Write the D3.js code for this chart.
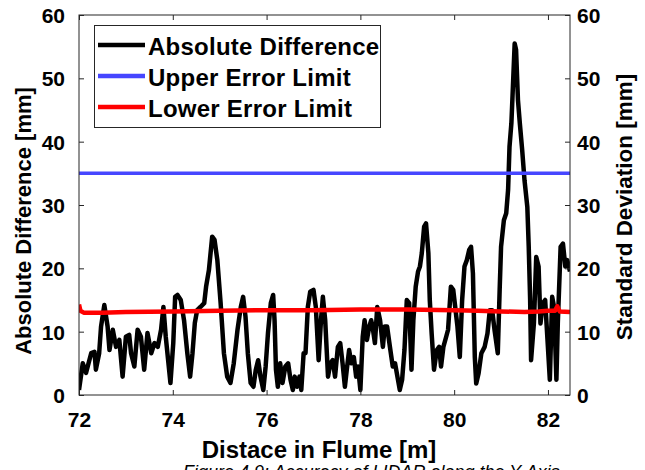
<!DOCTYPE html>
<html>
<head>
<meta charset="utf-8">
<script src="https://cdn.jsdelivr.net/npm/d3@7"></script>
<style>
  body { margin: 0; background: #fff; }
  text { font-family: "Liberation Sans", Arial, sans-serif; font-weight: bold; fill: #000; }
</style>
</head>
<body>
<script>
// distance along flume [m] and absolute difference [mm]
const distance = [72.00, 72.08, 72.15, 72.26, 72.33, 72.36, 72.43, 72.47, 72.54, 72.61, 72.65, 72.72, 72.79, 72.86, 72.93,
  73.00, 73.07, 73.11, 73.18, 73.25, 73.32, 73.39, 73.46, 73.54, 73.61, 73.68, 73.75, 73.80, 73.85, 73.95,
  74.01, 74.05, 74.10, 74.17, 74.24, 74.31, 74.37, 74.42, 74.47, 74.52, 74.59, 74.67, 74.71, 74.77, 74.84, 74.89, 74.95,
  75.02, 75.09, 75.16, 75.23, 75.30, 75.38, 75.45, 75.50, 75.55, 75.60, 75.66, 75.72, 75.77, 75.82, 75.87, 75.93, 75.98,
  76.03, 76.09, 76.14, 76.17, 76.20, 76.24, 76.29, 76.34, 76.40, 76.46, 76.51, 76.56, 76.60, 76.65, 76.70, 76.74, 76.79, 76.83, 76.88, 76.93,
  77.00, 77.05, 77.11, 77.16, 77.20, 77.25, 77.31, 77.36, 77.41, 77.46, 77.52, 77.57, 77.62, 77.67, 77.71, 77.76, 77.81, 77.86, 77.91, 77.95,
  78.00, 78.05, 78.09, 78.14, 78.19, 78.23, 78.26, 78.31, 78.36, 78.42, 78.48, 78.52, 78.57, 78.63, 78.69, 78.74, 78.79, 78.84, 78.89, 78.94, 78.99,
  79.04, 79.09, 79.13, 79.18, 79.23, 79.27, 79.31, 79.36, 79.40, 79.45, 79.48, 79.52, 79.57, 79.63, 79.68, 79.72, 79.77, 79.83, 79.87, 79.93, 79.98,
  80.03, 80.07, 80.12, 80.17, 80.22, 80.27, 80.32, 80.36, 80.40, 80.44, 80.47, 80.52, 80.58, 80.65, 80.71, 80.76, 80.81, 80.86, 80.93, 80.97,
  81.00, 81.06, 81.11, 81.15, 81.18, 81.22, 81.25, 81.29, 81.32, 81.36, 81.40, 81.45, 81.50, 81.56, 81.59, 81.62, 81.64, 81.70, 81.75, 81.80, 81.84, 81.89, 81.94, 81.99,
  82.04, 82.09, 82.13, 82.18, 82.21, 82.27, 82.32, 82.37, 82.41, 82.47];
const absDiff = [0.8, 5.0, 3.5, 6.6, 6.8, 4.0, 6.6, 10.8, 14.2, 10.8, 7.1, 10.3, 7.6, 8.7, 2.9,
  9.2, 9.5, 6.6, 4.5, 10.3, 9.2, 4.0, 9.8, 6.6, 8.2, 7.6, 10.3, 13.9, 9.2, 1.9,
  8.2, 15.5, 15.8, 15.0, 11.8, 6.6, 2.9, 6.6, 11.4, 13.4, 13.9, 14.5, 17.1, 19.7, 25.0, 24.5, 21.3,
  14.5, 6.6, 2.9, 1.9, 5.0, 10.3, 13.9, 15.5, 12.4, 6.6, 1.9, 1.3, 4.0, 5.5, 2.9, 0.8, 4.5,
  9.8, 14.5, 15.8, 11.8, 4.0, 1.3, 5.0, 1.9, 4.5, 5.0, 2.4, 0.8, 2.9, 1.3, 2.9, 0.8, 6.6, 6.6, 13.9, 16.3,
  16.6, 13.9, 5.5, 11.8, 15.5, 11.8, 2.9, 5.0, 5.5, 2.9, 7.6, 8.2, 5.0, 1.3, 4.0, 7.1, 5.0, 6.0, 2.9, 4.5,
  0.8, 9.2, 11.8, 8.7, 10.8, 11.8, 10.8, 8.2, 13.9, 11.8, 7.6, 10.8, 10.8, 7.6, 4.5, 5.0, 2.9, 0.8, 2.4, 7.1, 15.0,
  14.5, 4.0, 11.8, 17.1, 19.5, 20.3, 22.4, 26.6, 27.1, 22.4, 15.0, 9.7, 4.0, 7.1, 7.6, 4.5, 7.6, 9.2, 10.3, 17.1, 16.6,
  13.4, 10.8, 6.0, 15.0, 20.3, 21.3, 22.9, 23.4, 19.2, 6.0, 1.8, 3.4, 6.6, 7.6, 9.7, 13.4, 13.4, 10.3, 6.6, 16.6,
  23.4, 27.6, 28.7, 32.4, 39.2, 42.9, 48.2, 55.5, 54.5, 46.6, 42.9, 38.7, 33.9, 29.7, 23.4, 15.0, 5.5, 11.3, 21.8, 20.3, 11.3, 14.5, 15.0, 8.7,
  2.4, 15.5, 13.9, 2.4, 11.3, 23.4, 23.9, 20.3, 21.3, 19.5];

// error limits [mm]
const upperX = [72.00, 82.47];
const upperY = [35.0, 35.0];
const lowerX = [72.00, 72.03, 72.10, 72.50, 73.00, 74.00, 75.00, 76.00, 77.00, 78.00, 79.00, 80.00, 80.50, 81.00, 81.50, 81.80, 82.00, 82.15, 82.20, 82.25, 82.47];
const lowerY = [14.3, 13.3, 13.0, 13.0, 13.1, 13.2, 13.3, 13.4, 13.4, 13.5, 13.5, 13.4, 13.3, 13.2, 13.1, 13.2, 13.3, 13.3, 14.0, 13.2, 13.1];

const xTicks = [72, 74, 76, 78, 80, 82];
const yTicks = [0, 10, 20, 30, 40, 50, 60];
const seriesNames = ["Absolute Difference", "Upper Error Limit", "Lower Error Limit"];
const seriesColors = ["#000000", "#4646ff", "#ff0000"];

const W = 645, H = 470;
const m = { left: 79, right: 570, top: 15, bottom: 395 };

const svg = d3.select("body").append("svg").attr("width", W).attr("height", H);

const x = d3.scaleLinear().domain([72, 82.47]).range([m.left, m.right]);
const y = d3.scaleLinear().domain([0, 60]).range([m.bottom, m.top]);

svg.append("clipPath").attr("id", "plot")
  .append("rect").attr("x", m.left).attr("y", m.top)
  .attr("width", m.right - m.left).attr("height", m.bottom - m.top);

const line = d3.line().x(d => x(d[0])).y(d => y(d[1]));

const plot = svg.append("g").attr("clip-path", "url(#plot)");

plot.append("path")
  .datum(d3.zip(distance, absDiff))
  .attr("d", line)
  .attr("fill", "none").attr("stroke", seriesColors[0])
  .attr("stroke-width", 4.5).attr("stroke-linejoin", "round");

plot.append("path")
  .datum(d3.zip(upperX, upperY))
  .attr("d", line)
  .attr("fill", "none").attr("stroke", seriesColors[1]).attr("stroke-width", 3.5);

plot.append("path")
  .datum(d3.zip(lowerX, lowerY))
  .attr("d", line)
  .attr("fill", "none").attr("stroke", seriesColors[2])
  .attr("stroke-width", 4.5).attr("stroke-linejoin", "round");

// axes with inward ticks
function styleAxis(g) {
  g.select(".domain").remove();
  g.selectAll(".tick line").attr("stroke", "#262626");
  g.selectAll("text").attr("font-size", 21).attr("fill", "#000")
    .style("font-family", "'Liberation Sans', Arial, sans-serif").style("font-weight", "bold");
}

svg.append("g").attr("transform", `translate(0,${m.bottom})`)
  .call(d3.axisBottom(x).tickValues(xTicks).tickSize(-5).tickSizeOuter(0).tickFormat(d3.format("d")))
  .call(styleAxis)
  .call(g => g.selectAll("text").attr("dy", null).attr("y", 32));

svg.append("g").attr("transform", `translate(0,${m.top})`)
  .call(d3.axisTop(x).tickValues(xTicks).tickSize(-5).tickSizeOuter(0).tickFormat(""))
  .call(styleAxis);

svg.append("g").attr("transform", `translate(${m.left},0)`)
  .call(d3.axisLeft(y).tickValues(yTicks).tickSize(-5).tickSizeOuter(0))
  .call(styleAxis)
  .call(g => g.selectAll("text").attr("x", -14).attr("dy", "0.36em"));

svg.append("g").attr("transform", `translate(${m.right},0)`)
  .call(d3.axisRight(y).tickValues(yTicks).tickSize(-5).tickSizeOuter(0))
  .call(styleAxis)
  .call(g => g.selectAll("text").attr("x", 7).attr("dy", "0.36em"));

svg.append("rect")
  .attr("x", m.left).attr("y", m.top).attr("width", m.right - m.left).attr("height", m.bottom - m.top)
  .attr("fill", "none").attr("stroke", "#262626").attr("stroke-width", 1);

// axis titles
svg.append("text").attr("x", 319).attr("y", 458)
  .attr("text-anchor", "middle").attr("font-size", 24).text("Distace in Flume [m]");

svg.append("text").attr("transform", "translate(31,221) rotate(-90)")
  .attr("text-anchor", "middle").attr("font-size", 22).text("Absolute Difference [mm]");

svg.append("text").attr("transform", "translate(632,207) rotate(-90)")
  .attr("text-anchor", "middle").attr("font-size", 22.5).text("Standard Deviation [mm]");

// legend
const legend = svg.append("g");
legend.append("rect").attr("x", 94.5).attr("y", 25.5).attr("width", 286).attr("height", 102)
  .attr("fill", "#fff").attr("stroke", "#262626").attr("stroke-width", 1);

const rows = legend.selectAll("g.row").data(seriesNames).join("g").attr("class", "row")
  .attr("transform", (d, i) => `translate(0,${i * 31})`);
rows.append("line").attr("x1", 98).attr("x2", 145).attr("y1", 45).attr("y2", 45)
  .attr("stroke", (d, i) => seriesColors[i]).attr("stroke-width", 4.5);
rows.append("text").attr("x", 148).attr("y", 55).attr("font-size", 24)
  .attr("letter-spacing", 0.25).text(d => d);

// figure caption, cut by the bottom edge as in the source page
svg.append("text").attr("x", 183).attr("y", 478)
  .style("font-weight", "normal").style("font-style", "italic")
  .attr("font-size", 18).attr("fill", "#595959")
  .text("Figure 4.9: Accuracy of LIDAR along the Y-Axis");
</script>
</body>
</html>
